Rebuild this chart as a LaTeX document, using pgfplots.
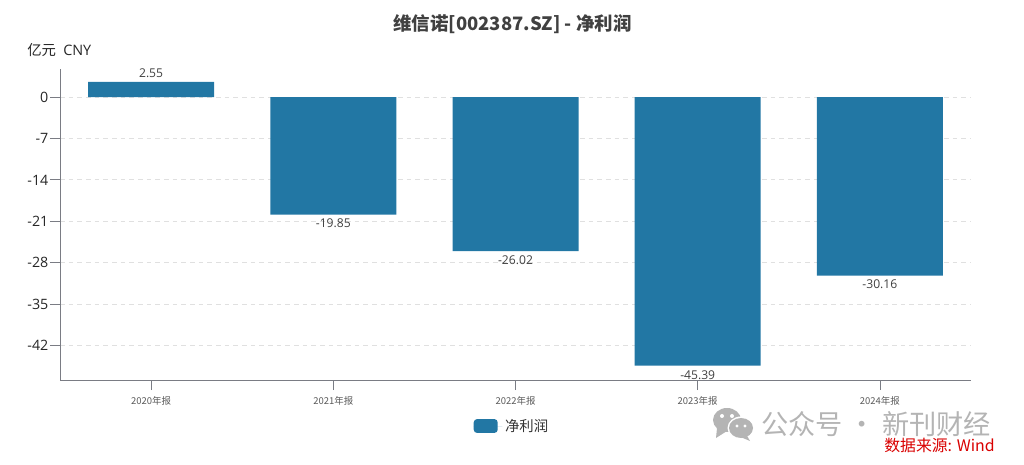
\documentclass[border=0pt]{standalone}
\usepackage{fontspec}
\setmainfont{Noto Sans CJK SC}
\newfontfamily\latinf{Open Sans}
\usepackage{pgfplots}
\pgfplotsset{compat=1.18}
\definecolor{barblue}{HTML}{2277A4}
\definecolor{axgray}{HTML}{7A7C84}
\definecolor{gridgray}{HTML}{E0E0E0}
\definecolor{wm}{HTML}{B4B4B4}
\begin{document}
\begin{tikzpicture}[x=0.75pt,y=0.75pt]
\useasboundingbox (0,0) rectangle (1024,464);
\begin{axis}[
  at={(45pt,63pt)},anchor=south west,
  scale only axis,width=683.25pt,height=233.25pt,
  xmin=-0.5,xmax=4.5,ymin=-47.8,ymax=4.73,
  axis x line=bottom,axis y line=left,
  axis line style={-,draw=axgray,line width=0.6pt},
  xtick=data,xticklabels={2020年报,2021年报,2022年报,2023年报,2024年报},
  ytick={0,-7,-14,-21,-28,-35,-42},
  yticklabel style={font=\fontsize{10.7}{12}\selectfont\latinf,text=black!85,inner sep=1pt},
  /pgf/number format/assume math mode=true,
  xticklabel style={font=\fontsize{7.1}{8}\selectfont,text=black!65,yshift=-1pt},
  tick style={draw=axgray,line width=0.6pt},
  major tick length=7.5pt,
  tick align=outside,
  ymajorgrids,
  grid style={dash pattern=on 3.5pt off 3pt,draw=gridgray,line width=0.6pt},
  clip=false,
  legend style={at={(0.4965,-0.148)},anchor=center,draw=none,fill=none,font=\fontsize{10.8}{12}\selectfont,text=black!80,inner sep=0pt},
  legend image code/.code={\fill[barblue,rounded corners=2.5pt] (0pt,-5.2pt) rectangle (18pt,5.2pt);\path (0pt,0pt) -- (21.5pt,0pt);},
]
\addplot[ybar,bar width=94.5pt,bar shift=0pt,fill=barblue,draw=none,
  nodes near coords,
  nodes near coords style={font=\fontsize{9.1}{10}\selectfont\latinf,text=black!75,inner sep=3.2pt,
    /pgf/number format/.cd,fixed,fixed zerofill,precision=2,assume math mode=true},
] coordinates {(0,2.55) (1,-19.85) (2,-26.02) (3,-45.39) (4,-30.16)};
\addlegendentry{净利润}
\end{axis}
\node[font=\fontsize{13.85}{16}\selectfont\bfseries,text=black!75] at (512.5,440) {维信诺[002387.SZ] - 净利润};
\node[font=\fontsize{10.8}{12}\selectfont,text=black!85,anchor=west,inner sep=0pt] at (27,414) {亿元\hspace{0.5em}{\latinf CNY}};
% watermark
\fill[wm] (727,44) ellipse [x radius=14,y radius=12];
\fill[wm] (717,36) -- (716,26) -- (727,33) -- cycle;
\fill[white] (741,36) ellipse [x radius=13.5,y radius=11.5];
\fill[wm] (741,36) ellipse [x radius=12,y radius=10];
\fill[wm] (746,30) -- (750,23) -- (738,28) -- cycle;
\fill[white] (722,48) circle (2) (732,48) circle (2) (737,38) circle (1.6) (745,38) circle (1.6);
\node[font=\fontsize{20.4}{24}\selectfont,text=wm,anchor=west,inner sep=0pt] at (761,40) {公众号 · 新刊财经};
\node[font=\fontsize{11.9}{14}\selectfont,text=red!85!black,anchor=west,inner sep=0pt] at (884,19) {数据来源: Wind};
\end{tikzpicture}
\end{document}
